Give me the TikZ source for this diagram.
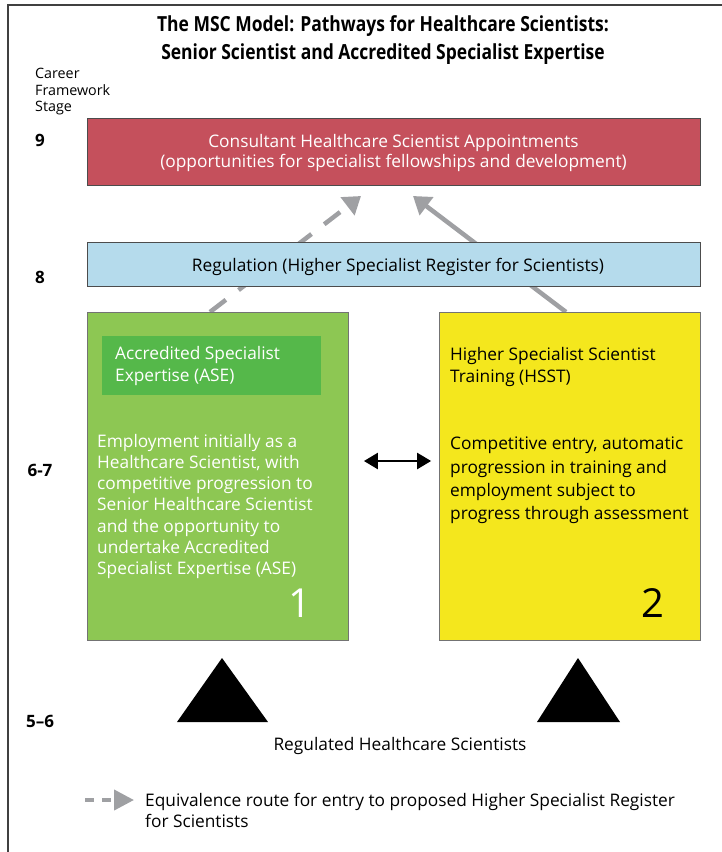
\documentclass[tikz,border=0pt]{standalone}
\usepackage{fontspec}
\setmainfont{Open Sans}
\newfontfamily\headfont[FakeStretch=0.84]{Open Sans}
\usetikzlibrary{arrows.meta}
\definecolor{consred}{HTML}{C5505C}
\definecolor{regblue}{HTML}{B5DBEC}
\definecolor{asegreen}{HTML}{8DC753}
\definecolor{asedark}{HTML}{55B84A}
\definecolor{hsstyellow}{HTML}{F4E71D}
\definecolor{routegray}{HTML}{9FA0A3}

\tikzstyle{band} = [draw=black!70, line width=0.8pt, inner sep=0pt, minimum width=613pt]
\tikzstyle{pathbox} = [draw=black!55, line width=0.8pt, inner sep=0pt, minimum width=261pt, minimum height=328pt]
\tikzstyle{txt} = [font=\fontsize{17.3}{21}\selectfont, align=left, anchor=north west, inner sep=0pt]
\tikzstyle{stage} = [font=\bfseries\fontsize{17}{19}\selectfont, inner sep=0pt]
\tikzstyle{route} = [draw=routegray, line width=4.5pt, -{Triangle[length=17pt,width=22pt]}]
\tikzstyle{bignum} = [font=\fontsize{40}{44}\selectfont, inner sep=0pt]

\begin{document}
\begin{tikzpicture}[x=1pt, y=-1pt]
\useasboundingbox (0,0) rectangle (721,852);
\draw[black!75, line width=1.5pt] (8,852) |- (730,5);

\node[font=\headfont\bfseries\fontsize{20.8}{28}\selectfont, align=center] (title) at (383,40)
    {The MSC Model: Pathways for Healthcare Scientists:\\Senior Scientist and Accredited Specialist Expertise};
\node[txt, font=\fontsize{14.3}{16.5}\selectfont] (cfs) at (35,68) {Career\\Framework\\Stage};

\node[stage] (s9) at (40,140) {9};
\node[stage] (s8) at (40,277) {8};
\node[stage] (s67) at (40,470) {6-7};
\node[stage] (s56) at (40,721) {5--6};

\coordinate (aseout) at (210,312);
\coordinate (asein) at (361,196);
\coordinate (hsstout) at (566,312);
\coordinate (hsstin) at (413,196);
\draw[route, dash pattern=on 20pt off 16pt] (aseout) -- (asein);
\draw[route] (hsstout) -- (hsstin);

\node[band, fill=consred, minimum height=67pt] (consultant) at (393.5,151.5) {};
\node[txt, align=center, anchor=center, white, font=\fontsize{17.3}{20.5}\selectfont] (constext) at (393.5,153)
    {Consultant Healthcare Scientist Appointments\\(opportunities for specialist fellowships and development)};

\node[band, fill=regblue, minimum height=44pt] (regulation) at (393.5,264) {};
\node[txt, anchor=center] (regtext) at (398,267) {Regulation (Higher Specialist Register for Scientists)};

\node[pathbox, fill=asegreen] (ase) at (218,476) {};
\node[fill=asedark, inner sep=0pt, minimum width=219pt, minimum height=59pt] (asehead) at (211.5,365.5) {};
\node[txt, white, font=\fontsize{17.3}{22}\selectfont] (aseheadtext) at (115,346) {Accredited Specialist\\Expertise (ASE)};
\node[txt, white, font=\fontsize{17.3}{21.2}\selectfont] (asetext) at (97,434)
    {Employment initially as a\\Healthcare Scientist, with\\competitive progression to\\Senior Healthcare Scientist\\and the opportunity to\\undertake Accredited\\Specialist Expertise (ASE)};
\node[bignum, white] (one) at (300,603) {1};

\node[pathbox, fill=hsstyellow] (hsst) at (570,476) {};
\node[txt, font=\fontsize{17.3}{22}\selectfont] (hsstheadtext) at (450,347) {Higher Specialist Scientist\\Training (HSST)};
\node[txt, font=\fontsize{17.3}{23.3}\selectfont] (hssttext) at (450,437)
    {Competitive entry, automatic\\progression in training and\\employment subject to\\progress through assessment};
\node[bignum] (two) at (653,603) {2};

\draw[line width=2.5pt, {Triangle[length=14pt,width=16pt]}-{Triangle[length=14pt,width=16pt]}]
    ([shift={(15,-15)}]ase.east) -- ([shift={(-8,-15)}]hsst.west);

\fill (222,658) -- (268,722) -- (177,722) -- cycle;
\fill (578,658) -- (620,722) -- (537,722) -- cycle;
\node[txt, anchor=center] (regulated) at (400,746) {Regulated Healthcare Scientists};

\coordinate (legfrom) at (85,800);
\coordinate (legto) at (134,800);
\draw[route, line width=4pt, dash pattern=on 9pt off 8pt, -{Triangle[length=20pt,width=20pt]}] (legfrom) -- (legto);
\node[txt] (legtext) at (145,793) {Equivalence route for entry to proposed Higher Specialist Register\\for Scientists};
\end{tikzpicture}
\end{document}
